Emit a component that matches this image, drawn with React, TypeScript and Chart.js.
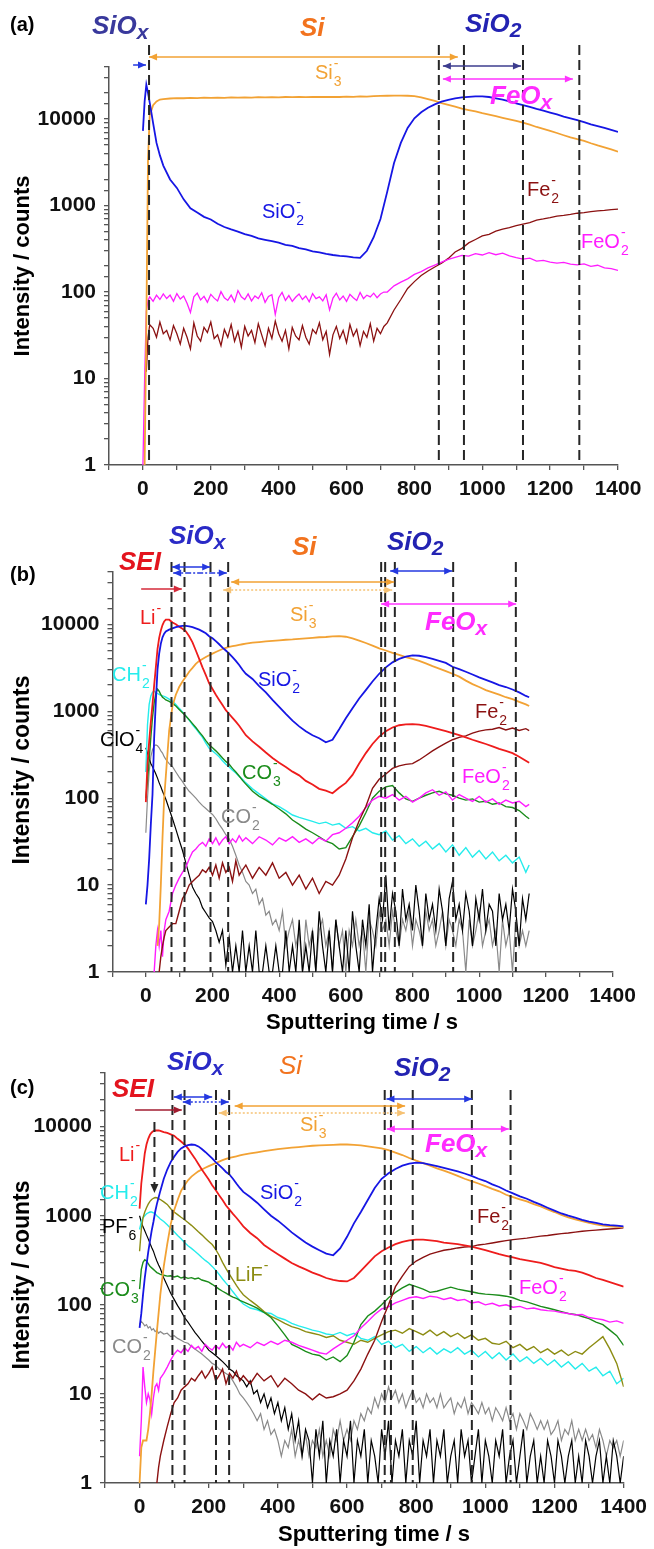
import React, { useEffect, useRef } from "react";
import { Chart, registerables } from "chart.js";

Chart.register(...registerables);

const FONT = '"Liberation Sans", Arial, Helvetica, sans-serif';
const PAGE_W = 654;

// ---------------- tick labels ----------------
const xTickLabels = [0, 200, 400, 600, 800, 1000, 1200, 1400];
const yTickLabels = [1, 10, 100, 1000, 10000];

// ---------------- Panel (a) ----------------
const timeA = [0,5,10,15,20,30,40,50,60,
80,100,120,140,160,180,200,220,240,260,
280,300,320,340,360,380,400,420,440,460,
480,500,520,540,560,580,600,620,640,660,
680,700,720,740,760,780,800,820,840,860,
880,900,920,940,960,980,1000,1020,1040,1060,
1080,1100,1120,1140,1160,1180,1200,1220,1240,1260,
1280,1300,1320,1340,1360,1380,1400];

// finer sampling of the noisy plateau (70-710 s)
const fineA = [70,80,90,100,110,120,130,140,150,160,170,180,190,200,210,220,230,240,250,260,
270,280,290,300,310,320,330,340,350,360,370,380,390,400,410,420,430,440,450,460,
470,480,490,500,510,520,530,540,550,560,570,580,590,600,610,620,630,640,650,660,
670,680,690,700,710];

const si3A = [null,1,40,3500,11000,14500,16000,16800,17000,
17300,17500,17400,17600,17500,17700,17600,17700,17600,17800,
17700,17800,17700,17900,17800,17900,17800,18000,17900,18000,
17900,18000,18100,18000,18100,18000,18200,18100,18300,18200,
18400,18500,18600,18700,18700,18600,18400,17800,17000,16200,
15300,14600,13900,13200,12700,12250,11700,11250,10800,10350,
9950,9550,9100,8600,8100,7700,7300,6900,6500,6150,
5850,5600,5250,4950,4700,4450,4200];

const sio2A = [7300,16000,25000,20000,15500,9000,5300,3800,2900,
2000,1600,1180,930,830,740,690,615,565,530,
500,468,445,418,402,388,372,352,342,322,
312,296,287,276,268,262,258,252,248,300,
430,700,1450,3100,5300,7900,10200,12000,13500,14800,
15900,16700,17300,17800,18100,18300,18300,18000,17400,16800,
16000,15200,14500,13800,13100,12500,11900,11300,10700,10200,
9700,9200,8700,8300,7900,7500,7100];

// on grid: timeA[0..8] + fineA + timeA[41..]
const fe2A = [null,null,12,30,42,38,30,45,33,
36,28,41,33,25,38,30,22,44,31,
27,39,34,45,29,32,24,37,30,42,
27,35,23,40,31,36,26,43,32,24,
38,29,46,33,27,36,22,39,31,28,
41,30,25,37,33,44,28,35,19,32,
40,29,36,26,42,31,37,24,35,30,
43,27,38,33,40,
44,62,82,110,132,155,175,195,
215,245,290,320,370,405,445,465,505,535,
555,585,610,635,680,700,725,755,770,790,
815,830,850,870,880,895,910];

const feo2A = [1,10,60,80,88,78,92,82,95,
84,92,78,96,83,90,74,58,88,97,
81,89,76,94,85,79,101,86,80,92,
77,104,88,82,95,79,90,84,98,76,
89,93,55,86,99,80,91,78,87,95,
82,90,77,96,84,88,79,93,62,85,
97,81,90,78,94,86,80,99,84,92,
88,97,86,95,100,
100,118,130,142,160,172,190,205,
222,238,252,265,260,278,268,285,270,282,
262,250,240,246,228,232,222,216,220,210,
206,212,198,204,190,186,178];

// ---------------- Panel (b) ----------------
const timeB = [0,5,10,15,20,25,30,35,40,45,50,55,60,
70,80,90,100,110,120,130,140,150,160,170,180,
190,200,210,220,230,240,250,260,270,280,290,300,
320,340,360,380,400,420,440,460,480,500,
520,540,560,580,600,620,640,660,680,700,
720,740,760,780,800,820,840,860,880,900,
920,940,960,980,1000,1020,1040,1060,1080,1100,
1120,1140,1150];

const fineB = [310,320,330,340,350,360,370,380,390,400,
410,420,430,440,450,460,470,480,490,500,
510,520,530,540,550,560,570,580,590,600,
610,620,630,640,650,660,670,680,690,700,
710,720,730,740,750,760,770,780,790,800,
810,820,830,840,850,860,870,880,890,900,
910,920,930,940,950,960,970,980,990,1000,
1010,1020,1030,1040,1050,1060,1070,1080,1090,1100,
1110,1120,1130,1140,1150];

const liB = [90,250,450,750,1200,2000,3200,5200,7000,8500,9800,10800,11300,
11300,10500,10000,9400,8900,8300,7300,6200,5000,4000,3200,2600,
2100,1800,1550,1350,1180,1030,930,840,760,680,600,530,
450,390,335,290,255,228,202,183,158,144,
128,122,114,132,150,185,250,330,420,510,
590,650,690,705,710,700,680,650,620,590,
560,530,500,470,445,420,395,370,350,330,
300,270,255];

const sio2B = [6,10,20,50,110,500,1300,3000,4600,6000,7100,7800,8300,
8700,9000,9300,9500,9600,9600,9500,9300,9000,8700,8300,7900,
7300,6900,6400,5900,5400,5000,4600,4200,3800,3400,3000,2700,
2350,1950,1650,1350,1120,930,780,670,590,530,
490,440,470,620,830,1080,1400,1750,2200,2700,
3200,3650,4000,4250,4400,4350,4200,4000,3800,3600,
3250,3050,2850,2650,2450,2300,2150,2000,1900,1780,
1650,1500,1450];

const si3B = [null,null,null,null,null,null,null,2,3.5,10,35,100,180,
600,1150,1550,1900,2200,2500,2850,3150,3500,3800,4000,4200,
4400,4600,4800,5000,5200,5350,5500,5600,5700,5800,5900,6000,
6150,6250,6350,6450,6550,6650,6700,6800,6900,7000,
7100,7150,7250,7300,7200,6900,6500,6100,5700,5300,
5000,4700,4450,4200,4000,3800,3550,3300,3100,2900,
2700,2500,2250,2050,1900,1750,1650,1550,1450,1380,
1280,1200,1150];

const ch2B = [200,700,1200,1500,1650,1700,1650,1600,1560,1520,1500,1480,1450,
1380,1300,1200,1080,980,880,790,700,630,560,500,430,
375,350,325,300,270,245,228,210,195,178,165,150,
128,112,98,86,80,72,64,60,57,54,
51,53,49,51,45,47,42,45,40,38,
42,33,37,30,34,28,32,26,30,24,
29,22,27,21,25,20,24,19,22,18,
21,14,17];

const co3B = [100,160,280,500,850,1250,1600,1800,1700,1550,1450,1400,1350,
1300,1230,1150,1050,960,880,800,720,650,580,520,460,
410,380,350,320,290,265,245,220,200,180,160,145,
120,105,95,85,75,66,56,50,44,40,
36,32,30,26,27,36,48,68,100,120,
135,140,115,98,92,100,108,115,120,112,
108,100,95,98,90,92,85,88,80,78,
72,62,58];

// on grid: timeB[0..36] + fineB
const clo4B = [380,330,280,250,230,210,190,170,150,135,120,108,97,
75,58,44,33,25,18,13,9.5,8,7,5.5,4.8,
4.2,3.8,3,2.2,3,1.2,2.5,1,2,1,3,1,
2,1,3,1,1,2,1,1,2,1,
1,3,1,2,1,4,1,2,1,3,
1,5,2,1,3,1,4,2,1,3,
1,5,2,1,4,2,6,1,3,7,
4,13,3,8,5,2,9,4,6,3,
10,5,2,8,4,6,3,9,5,2,
7,11,4,6,3,8,5,2,7,4,
9,3,6,5,2,8,4,6,3,9,
5,2,7,4,8];

const co2B = [40,100,200,300,360,400,410,400,380,350,330,300,280,
250,230,200,175,155,135,120,110,100,90,82,76,
70,65,58,50,44,38,34,28,22,17,14,11,
10,8,9,6,7,4.5,5,3.5,4,3,
5,2,3,4,2,3,1,4,2,3,
1,3,4,2,3,1,4,2,3,1,
3,2,4,2,3,1,4,3,2,5,
3,4,2,5,3,2,4,3,5,2,
4,3,2,5,3,4,2,3,5,2,
4,3,2,4,3,1,4,2,3,5,
2,3,4,2,3,1,4,2,3,1,
4,2,3,2,3];

const fe2B = [null,null,null,null,null,null,null,null,1,1.5,2,2.5,3,
3.3,3.6,3.6,5,7,8,10,11,12,13,15,14,
16,13,17,12,18,14,16,11,19,13,15,17,
12,16,13,18,12,14,10,13,9,12,
8,11,10,13,20,35,55,80,130,165,
190,220,235,245,250,275,310,350,390,430,
470,500,520,560,590,610,620,650,610,640,
600,630,600];

const feo2B = [null,null,null,null,null,1,2,3,2,3,1.5,3,4,
5,8,10,12,14,16,20,24,26,29,31,28,
34,30,35,29,33,36,30,34,31,37,32,35,
30,36,33,29,35,32,36,31,34,30,
35,32,38,40,45,52,62,78,95,105,
100,110,95,105,90,100,115,125,108,118,
95,110,100,92,105,90,98,85,95,88,
92,80,85];

// ---------------- Panel (c) ----------------
const timeC = [0,5,10,15,20,25,30,35,40,45,50,55,60,
70,80,90,100,110,120,130,140,150,160,170,180,
190,200,210,220,230,240,250,260,270,280,290,300,
320,340,360,380,400,420,440,460,480,500,
520,540,560,580,600,620,640,660,680,700,
720,740,760,780,800,820,840,860,880,900,
920,940,960,980,1000,1020,1040,1060,1080,1100,
1120,1140,1160,1180,1200,1220,1240,1260,1280,1300,
1320,1340,1360,1380,1400];

const fineC = [310,320,330,340,350,360,370,380,390,400,
410,420,430,440,450,460,470,480,490,500,
510,520,530,540,550,560,570,580,590,600,
610,620,630,640,650,660,670,680,690,700,
710,720,730,740,750,760,770,780,790,800,
810,820,830,840,850,860,870,880,890,900,
910,920,930,940,950,960,970,980,990,1000,
1010,1020,1030,1040,1050,1060,1070,1080,1090,1100,
1110,1120,1130,1140,1150,1160,1170,1180,1190,1200,
1210,1220,1230,1240,1250,1260,1270,1280,1290,1300,
1310,1320,1330,1340,1350,1360,1370,1380,1390,1400];

const liC = [1200,2300,3400,5000,6300,7300,8100,8600,8900,9050,9100,9050,8950,
8700,8500,8200,7900,7300,6800,6300,5700,5000,4400,3800,3300,
2900,2550,2200,1950,1700,1500,1300,1170,1050,950,850,760,
640,560,470,415,370,330,295,270,250,230,
215,200,190,185,183,200,240,290,350,400,
440,480,510,530,540,540,530,520,500,490,
480,465,450,430,410,390,370,355,340,325,
315,305,295,280,265,255,245,240,230,215,
200,190,180,170,160];

const sio2C = [55,80,130,200,280,390,520,680,850,1100,1350,1600,1900,
2600,3300,4000,4600,5200,5700,6000,6200,6300,6250,6000,5600,
5200,4800,4400,4000,3700,3400,3100,2900,2600,2300,2050,1850,
1620,1400,1180,1000,880,760,650,570,500,450,
410,375,360,430,580,820,1100,1500,2050,2600,
3000,3350,3650,3850,3950,3900,3750,3600,3450,3300,
3150,2980,2800,2600,2450,2250,2100,1920,1780,1650,
1550,1430,1330,1230,1140,1060,1000,950,900,860,
830,800,785,775,760];

const si3C = [1,2.5,3,3,3,4,6,10,18,30,50,80,130,
270,480,800,1150,1500,1900,2200,2500,2750,2950,3150,3300,
3450,3600,3750,3900,4050,4200,4350,4450,4550,4650,4750,4850,
5000,5150,5300,5450,5600,5700,5800,5900,6000,6100,
6150,6200,6250,6300,6300,6250,6150,6000,5850,5700,
5450,5100,4800,4450,4150,3900,3650,3400,3200,3000,
2800,2600,2450,2300,2150,2000,1880,1720,1620,1530,
1450,1350,1270,1180,1100,1020,960,910,870,830,
800,775,760,750,745];

const ch2C = [700,850,950,1000,1050,1080,1100,1100,1080,1050,1000,960,920,
860,790,720,660,600,550,500,460,430,400,370,340,
315,295,270,245,220,195,175,158,140,125,112,102,
92,88,82,80,72,68,62,58,55,52,
50,47,46,49,45,48,42,40,44,36,
39,33,36,30,34,29,33,28,32,29,
33,28,31,26,30,25,29,24,28,23,
26,22,25,21,24,20,23,19,22,18,
20,16,18,13,15];

// on grid: timeC[0..36] + fineC
const pf6C = [1000,850,750,680,610,550,490,440,400,350,310,280,255,
200,165,135,115,98,85,72,64,56,49,44,39,
35,31,29,27,25,23,21,19,18,16,15,14,
12,14,10,11,8,10,7,9,6,8,
5,7,4,6,3,5,2,4,3,1,
4,2,5,1,3,2,4,1,3,2,
5,1,3,2,4,1,3,2,1,4,
2,5,1,3,2,4,1,3,2,5,
1,3,2,4,1,3,2,4,1,2,
3,1,4,2,3,1,2,4,1,3,
2,1,3,2,4,1,2,3,1,2,
4,1,2,3,1,2,1,3,2,1,
3,2,1,2,3,1,2,1,3,2,
1,2,3,1,2,1,3,2,1,2];

const lifC = [400,700,950,1100,1230,1350,1450,1520,1570,1600,1590,1560,1520,
1430,1340,1200,1100,1030,960,900,840,780,720,660,610,
560,515,475,420,360,300,255,220,190,165,145,130,
112,98,84,74,68,62,57,54,50,48,
46,43,45,40,38,36,40,38,42,46,
50,52,48,54,50,46,52,45,50,44,
48,42,46,40,42,37,36,39,33,36,
31,34,29,32,28,31,27,30,28,33,
38,44,32,22,12];

const co3C = [150,250,300,320,310,290,270,260,250,240,230,225,220,
215,210,212,205,210,200,205,198,202,195,200,190,
185,180,170,160,150,142,135,128,122,118,112,108,
100,92,82,72,58,46,36,33,30,28,
27,24,26,23,27,38,60,75,85,100,
120,138,155,170,160,150,138,142,150,158,
150,145,140,135,132,130,128,125,120,112,
108,102,96,92,88,84,80,78,74,70,
64,60,52,45,35];

// on grid: timeC[0..36] + fineC
const co2C = [60,65,62,58,60,55,57,52,54,50,52,48,50,
47,48,44,45,42,40,38,37,34,32,30,28,
26,24,22,21,19,18,17,16,14,12,10,9,
8,7,6,5,6,4,5,3.5,4,3,
2,3,2.5,4,2,3,2,3.5,2,3,
2.5,4,2,3,2,4,3,5,3,4,
3,5,4,6,5,7,6,9,7,10,
8,12,9,11,8,10,7,9,11,8,
9,7,10,8,9,7,10,7,8,9,
6,8,7,9,6,8,7,6,8,6,
7,5,7,6,5,7,5,6,4,6,
5,4,6,5,4,5,4,5,3.5,4,
5,3,4,3.5,5,3,4,3,4,3,
3.5,2.5,4,3,2,3,2.5,3,2,3];

const fe2C = [null,null,null,null,null,null,null,null,null,null,1,1.5,2,
3,4.3,6,8,9,11,12,13,15,14,16,18,
15,17,20,14,16,19,13,17,15,18,14,16,
13,17,14,16,12,15,13,11,10,8.6,
10,9,9.3,10,11,14,19,28,40,65,
100,160,210,270,310,340,370,390,410,420,
435,445,450,470,480,495,510,525,540,550,
560,575,590,600,615,630,640,655,670,680,
690,700,710,720,730];

const feo2C = [2,5,20,12,8,10,8.6,6,9,12,13,11,15,
17,20,24,28,31,29,33,30,35,32,34,30,
36,33,31,35,32,37,33,35,31,38,34,36,
33,38,35,39,36,40,38,35,33,31,
29,28,32,36,40,45,55,65,78,90,
95,105,112,120,123,118,125,122,115,120,
112,115,105,108,100,104,97,100,94,96,
90,92,88,86,85,82,80,77,78,72,
70,68,64,66,62];

// combined time axes for the finely sampled noisy traces
const tNoisyA = [...timeA.slice(0, 9), ...fineA, ...timeA.slice(41)];
const tNoisyB = [...timeB.slice(0, 37), ...fineB];
const tNoisyC = [...timeC.slice(0, 37), ...fineC];

// ---------------- vertical dashed boundaries (s) ----------------
const dashesA = [18, 872, 946, 1120, 1286];
const dashesB = [77, 116, 194, 247, 706, 718, 747, 922, 1110];
const dashesC = [95, 130, 221, 259, 709, 727, 790, 961, 1073];

// ---------------- colours ----------------
const COL = {
  sio2: "#1616e4",
  si3: "#f2a234",
  fe2: "#8b1111",
  feo2: "#ff1cff",
  li: "#ee1c1c",
  ch2: "#25ecec",
  co3: "#1b8c1b",
  co2: "#8a8a8a",
  black: "#000000",
  lif: "#8c8c12",
};

type Arrow = { x1: number; x2: number; y: number; color: string; heads: "end" | "both"; dash?: number[] };
type Big = { text: string; sub?: string; x: number; y: number; color: string; bold?: boolean };
type Chem = { base: string; sub?: string; sup?: string; x: number; y: number; color: string };
type Series = { name: string; y: (number | null)[]; color: string; width: number; t?: number[] };
type Panel = {
  top: number;
  height: number;
  area: { left: number; right: number; top: number; bottom: number };
  times: number[];
  series: Series[];
  dashes: number[];
  dashTop: number;
  downArrow?: { x: number; y1: number; y2: number };
  arrows: Arrow[];
  bigs: Big[];
  chems: Chem[];
  letter: { text: string; x: number; y: number };
  yTitle: { x: number; y: number; size: number };
  xTitle?: { x: number; y: number };
};

const BLUE_A = "#2438e0";
const SI_ORANGE = "#f2731e";
const BIG_BLUE = "#2a2ac6";

const panels: Panel[] = [
  {
    top: 0,
    height: 505,
    area: { left: 109, right: 618, top: 67, bottom: 465 },
    times: timeA,
    series: [
      { name: "SiO2-", y: sio2A, color: COL.sio2, width: 1.8 },
      { name: "Si3-", y: si3A, color: COL.si3, width: 1.8 },
      { name: "FeO2-", y: feo2A, color: COL.feo2, width: 1.3, t: tNoisyA },
      { name: "Fe2-", y: fe2A, color: COL.fe2, width: 1.3, t: tNoisyA },
    ],
    dashes: dashesA,
    dashTop: 45,
    arrows: [
      { x1: -29, x2: 9, y: 65, color: BLUE_A, heads: "end" },
      { x1: 18, x2: 928, y: 57, color: COL.si3, heads: "both" },
      { x1: 884, x2: 1114, y: 66, color: "#3c3c8e", heads: "both" },
      { x1: 884, x2: 1267, y: 79, color: "#ff33ff", heads: "both" },
    ],
    bigs: [
      { text: "SiO", sub: "x", x: 92, y: 27, color: "#39399c" },
      { text: "Si", x: 300, y: 29, color: SI_ORANGE },
      { text: "SiO", sub: "2", x: 465, y: 25, color: "#2323b2" },
      { text: "FeO", sub: "x", x: 490, y: 97, color: "#ff2cff" },
    ],
    chems: [
      { base: "Si", sub: "3", sup: "-", x: 315, y: 73, color: COL.si3 },
      { base: "SiO", sub: "2", sup: "-", x: 262, y: 212, color: COL.sio2 },
      { base: "Fe", sub: "2", sup: "-", x: 527, y: 190, color: COL.fe2 },
      { base: "FeO", sub: "2", sup: "-", x: 581, y: 242, color: COL.feo2 },
    ],
    letter: { text: "(a)", x: 10, y: 25 },
    yTitle: { x: 23, y: 266, size: 22 },
  },
  {
    top: 505,
    height: 540,
    area: { left: 112.5, right: 612.5, top: 572, bottom: 972 },
    times: timeB,
    series: [
      { name: "SiO2-", y: sio2B, color: COL.sio2, width: 1.8 },
      { name: "Li-", y: liB, color: COL.li, width: 1.8 },
      { name: "Si3-", y: si3B, color: COL.si3, width: 1.8 },
      { name: "Fe2-", y: fe2B, color: COL.fe2, width: 1.4 },
      { name: "FeO2-", y: feo2B, color: COL.feo2, width: 1.4 },
      { name: "CO3-", y: co3B, color: COL.co3, width: 1.4 },
      { name: "CH2-", y: ch2B, color: COL.ch2, width: 1.4 },
      { name: "ClO4-", y: clo4B, color: COL.black, width: 1.2, t: tNoisyB },
      { name: "CO2-", y: co2B, color: COL.co2, width: 1.2, t: tNoisyB },
    ],
    dashes: dashesB,
    dashTop: 562,
    arrows: [
      { x1: -14, x2: 108, y: 589, color: "#d42a3a", heads: "end" },
      { x1: 78, x2: 193, y: 567, color: BLUE_A, heads: "both" },
      { x1: 82, x2: 243, y: 573, color: BLUE_A, heads: "both", dash: [6, 2, 2, 2] },
      { x1: 256, x2: 745, y: 582, color: COL.si3, heads: "both" },
      { x1: 232, x2: 739, y: 590, color: "#f6c274", heads: "both", dash: [2, 2] },
      { x1: 733, x2: 919, y: 571, color: BLUE_A, heads: "both" },
      { x1: 706, x2: 1111, y: 604, color: "#ff33ff", heads: "both" },
    ],
    bigs: [
      { text: "SEI", x: 119, y: 563, color: "#e3141e" },
      { text: "SiO", sub: "x", x: 169, y: 537, color: BIG_BLUE },
      { text: "Si", x: 292, y: 548, color: SI_ORANGE },
      { text: "SiO", sub: "2", x: 387, y: 543, color: "#2323b2" },
      { text: "FeO", sub: "x", x: 425, y: 623, color: "#ff2cff" },
    ],
    chems: [
      { base: "Li", sup: "-", x: 140, y: 618, color: COL.li },
      { base: "Si", sub: "3", sup: "-", x: 290, y: 615, color: COL.si3 },
      { base: "SiO", sub: "2", sup: "-", x: 258, y: 680, color: COL.sio2 },
      { base: "CH", sub: "2", sup: "-", x: 112, y: 675, color: COL.ch2 },
      { base: "ClO", sub: "4", sup: "-", x: 100, y: 740, color: COL.black },
      { base: "CO", sub: "3", sup: "-", x: 242, y: 773, color: COL.co3 },
      { base: "Fe", sub: "2", sup: "-", x: 475, y: 712, color: COL.fe2 },
      { base: "FeO", sub: "2", sup: "-", x: 462, y: 777, color: COL.feo2 },
      { base: "CO", sub: "2", sup: "-", x: 221, y: 817, color: COL.co2 },
    ],
    letter: { text: "(b)", x: 10, y: 575 },
    yTitle: { x: 23, y: 770, size: 23 },
    xTitle: { x: 362, y: 1023 },
  },
  {
    top: 1045,
    height: 504,
    area: { left: 105, right: 625, top: 1073, bottom: 1483 },
    times: timeC,
    series: [
      { name: "SiO2-", y: sio2C, color: COL.sio2, width: 1.8 },
      { name: "Li-", y: liC, color: COL.li, width: 1.8 },
      { name: "Si3-", y: si3C, color: COL.si3, width: 1.8 },
      { name: "Fe2-", y: fe2C, color: COL.fe2, width: 1.4 },
      { name: "FeO2-", y: feo2C, color: COL.feo2, width: 1.4 },
      { name: "CO3-", y: co3C, color: COL.co3, width: 1.4 },
      { name: "LiF-", y: lifC, color: COL.lif, width: 1.4 },
      { name: "CH2-", y: ch2C, color: COL.ch2, width: 1.4 },
      { name: "PF6-", y: pf6C, color: COL.black, width: 1.2, t: tNoisyC },
      { name: "CO2-", y: co2C, color: COL.co2, width: 1.2, t: tNoisyC },
    ],
    dashes: dashesC,
    dashTop: 1090,
    downArrow: { x: 43, y1: 1122, y2: 1193 },
    arrows: [
      { x1: -13, x2: 122, y: 1110, color: "#a21c30", heads: "end" },
      { x1: 99, x2: 210, y: 1097, color: BLUE_A, heads: "both" },
      { x1: 125, x2: 258, y: 1102, color: BLUE_A, heads: "both", dash: [2, 2] },
      { x1: 275, x2: 768, y: 1106, color: COL.si3, heads: "both" },
      { x1: 229, x2: 768, y: 1113, color: "#f6c274", heads: "both", dash: [2, 2] },
      { x1: 714, x2: 962, y: 1099, color: BLUE_A, heads: "both" },
      { x1: 715, x2: 1068, y: 1129, color: "#ff33ff", heads: "both" },
    ],
    bigs: [
      { text: "SEI", x: 112, y: 1090, color: "#e3141e" },
      { text: "SiO", sub: "x", x: 167, y: 1063, color: BIG_BLUE },
      { text: "Si", x: 279, y: 1067, color: SI_ORANGE, bold: false },
      { text: "SiO", sub: "2", x: 394, y: 1069, color: "#2323b2" },
      { text: "FeO", sub: "x", x: 425, y: 1145, color: "#ff2cff" },
    ],
    chems: [
      { base: "Si", sub: "3", sup: "-", x: 300, y: 1125, color: COL.si3 },
      { base: "Li", sup: "-", x: 119, y: 1155, color: COL.li },
      { base: "SiO", sub: "2", sup: "-", x: 260, y: 1193, color: COL.sio2 },
      { base: "CH", sub: "2", sup: "-", x: 100, y: 1193, color: COL.ch2 },
      { base: "PF", sub: "6", sup: "-", x: 102, y: 1227, color: COL.black },
      { base: "LiF", sup: "-", x: 235, y: 1275, color: COL.lif },
      { base: "CO", sub: "3", sup: "-", x: 100, y: 1290, color: COL.co3 },
      { base: "Fe", sub: "2", sup: "-", x: 477, y: 1217, color: COL.fe2 },
      { base: "FeO", sub: "2", sup: "-", x: 519, y: 1288, color: COL.feo2 },
      { base: "CO", sub: "2", sup: "-", x: 112, y: 1347, color: COL.co2 },
    ],
    letter: { text: "(c)", x: 10, y: 1088 },
    yTitle: { x: 23, y: 1275, size: 23 },
    xTitle: { x: 374, y: 1535 },
  },
];

function arrowHead(ctx: CanvasRenderingContext2D, x: number, y: number, dir: number) {
  ctx.beginPath();
  ctx.moveTo(x, y);
  ctx.lineTo(x - dir * 8, y - 3.5);
  ctx.lineTo(x - dir * 8, y + 3.5);
  ctx.closePath();
  ctx.fill();
}

function drawBig(ctx: CanvasRenderingContext2D, b: Big, y: number) {
  const size = 26;
  const style = b.bold === false ? "italic" : "italic bold";
  ctx.font = `${style} ${size}px ${FONT}`;
  ctx.fillStyle = b.color;
  ctx.textAlign = "left";
  ctx.textBaseline = "middle";
  ctx.fillText(b.text, b.x, y);
  if (b.sub) {
    const w = ctx.measureText(b.text).width;
    ctx.font = `${style} ${Math.round(size * 0.8)}px ${FONT}`;
    ctx.fillText(b.sub, b.x + w, y + 6);
  }
}

function drawChem(ctx: CanvasRenderingContext2D, c: Chem, y: number) {
  const size = 20;
  ctx.font = `${size}px ${FONT}`;
  ctx.fillStyle = c.color;
  ctx.textAlign = "left";
  ctx.textBaseline = "middle";
  ctx.fillText(c.base, c.x, y);
  const w = ctx.measureText(c.base).width;
  ctx.font = `${Math.round(size * 0.68)}px ${FONT}`;
  if (c.sup) ctx.fillText(c.sup, c.x + w + 1, y - 9);
  if (c.sub) ctx.fillText(c.sub, c.x + w + 1, y + 9);
}

function PanelChart({ p }: { p: Panel }) {
  const ref = useRef<HTMLCanvasElement | null>(null);
  useEffect(() => {
    const canvas = ref.current;
    if (!canvas) return;
    const datasets = p.series.map((s) => ({
      label: s.name,
      data: (s.t || p.times).map((t, i) => ({ x: t, y: s.y[i] })),
      borderColor: s.color,
      backgroundColor: s.color,
      borderWidth: s.width,
      pointRadius: 0,
      fill: false,
      tension: 0,
      spanGaps: false,
    }));

    const overlay = {
      id: "overlay" + p.top,
      afterDatasetsDraw(chart: any) {
        const ctx: CanvasRenderingContext2D = chart.ctx;
        const xs = chart.scales.x;
        const a = chart.chartArea;
        const Y = (v: number) => v - p.top;
        ctx.save();
        // vertical dashed boundaries
        ctx.strokeStyle = "#262626";
        ctx.lineWidth = 2;
        ctx.setLineDash([10, 5]);
        for (const d of p.dashes) {
          const px = xs.getPixelForValue(d);
          ctx.beginPath();
          ctx.moveTo(px, Y(p.dashTop));
          ctx.lineTo(px, a.bottom);
          ctx.stroke();
        }
        if (p.downArrow) {
          const px = xs.getPixelForValue(p.downArrow.x);
          ctx.beginPath();
          ctx.moveTo(px, Y(p.downArrow.y1));
          ctx.lineTo(px, Y(p.downArrow.y2) - 6);
          ctx.stroke();
          ctx.setLineDash([]);
          ctx.fillStyle = "#262626";
          ctx.beginPath();
          ctx.moveTo(px, Y(p.downArrow.y2));
          ctx.lineTo(px - 4, Y(p.downArrow.y2) - 9);
          ctx.lineTo(px + 4, Y(p.downArrow.y2) - 9);
          ctx.closePath();
          ctx.fill();
        }
        ctx.setLineDash([]);
        // arrows
        for (const ar of p.arrows) {
          const x1 = xs.getPixelForValue(ar.x1);
          const x2 = xs.getPixelForValue(ar.x2);
          const y = Y(ar.y);
          ctx.strokeStyle = ar.color;
          ctx.fillStyle = ar.color;
          ctx.lineWidth = 1.5;
          ctx.setLineDash(ar.dash || []);
          ctx.beginPath();
          ctx.moveTo(x1, y);
          ctx.lineTo(x2, y);
          ctx.stroke();
          ctx.setLineDash([]);
          arrowHead(ctx, x2, y, 1);
          if (ar.heads === "both") arrowHead(ctx, x1, y, -1);
        }
        // labels
        for (const b of p.bigs) drawBig(ctx, b, Y(b.y));
        for (const c of p.chems) drawChem(ctx, c, Y(c.y));
        // panel letter
        ctx.font = `bold 20px ${FONT}`;
        ctx.fillStyle = "#000";
        ctx.textAlign = "left";
        ctx.textBaseline = "middle";
        ctx.fillText(p.letter.text, p.letter.x, Y(p.letter.y));
        // axis titles
        ctx.save();
        ctx.translate(p.yTitle.x, Y(p.yTitle.y));
        ctx.rotate(-Math.PI / 2);
        ctx.font = `bold ${p.yTitle.size}px ${FONT}`;
        ctx.textAlign = "center";
        ctx.textBaseline = "middle";
        ctx.fillText("Intensity / counts", 0, 0);
        ctx.restore();
        if (p.xTitle) {
          ctx.font = `bold 22px ${FONT}`;
          ctx.textAlign = "center";
          ctx.textBaseline = "middle";
          ctx.fillText("Sputtering time / s", p.xTitle.x, Y(p.xTitle.y));
        }
        ctx.restore();
      },
    };

    const tickFont = { family: FONT, size: 21, weight: "bold" as const };
    const chart = new Chart(canvas, {
      type: "line",
      data: { datasets: datasets as any },
      options: {
        animation: false,
        responsive: false,
        events: [],
        layout: {
          padding: {
            top: p.area.top - p.top,
            right: PAGE_W - p.area.right,
            left: 0,
            bottom: 0,
          },
        },
        plugins: { legend: { display: false }, tooltip: { enabled: false } },
        scales: {
          x: {
            type: "linear",
            min: -100,
            max: 1400,
            afterFit: (s: any) => {
              s.height = p.top + p.height - p.area.bottom;
            },
            ticks: {
              stepSize: 100,
              autoSkip: false,
              maxRotation: 0,
              padding: 7,
              color: "#111",
              font: tickFont,
              callback: (v: any) => (xTickLabels.includes(Number(v)) ? String(v) : ""),
            },
            grid: { drawOnChartArea: false, drawTicks: true, tickLength: 5, color: "#555", lineWidth: 1.3 },
            border: { display: true, color: "#555", width: 1.5 },
          },
          y: {
            type: "logarithmic",
            min: 1,
            max: 40000,
            afterFit: (s: any) => {
              s.width = p.area.left;
            },
            ticks: {
              autoSkip: false,
              padding: 8,
              color: "#111",
              font: tickFont,
              callback: (v: any) => (yTickLabels.includes(Number(v)) ? String(v) : ""),
            },
            grid: { drawOnChartArea: false, drawTicks: true, tickLength: 5, color: "#555", lineWidth: 1.3 },
            border: { display: true, color: "#555", width: 1.5 },
          },
        },
      } as any,
      plugins: [overlay],
    });
    return () => chart.destroy();
  }, [p]);

  return (
    <canvas
      ref={ref}
      width={PAGE_W}
      height={p.height}
      style={{ position: "absolute", left: 0, top: p.top, width: PAGE_W, height: p.height }}
    />
  );
}

export default function App() {
  return (
    <div
      style={{
        position: "absolute",
        left: 0,
        top: 0,
        width: PAGE_W,
        height: 1549,
        background: "#ffffff",
        overflow: "hidden",
      }}
    >
      {panels.map((p, i) => (
        <PanelChart key={i} p={p} />
      ))}
    </div>
  );
}
